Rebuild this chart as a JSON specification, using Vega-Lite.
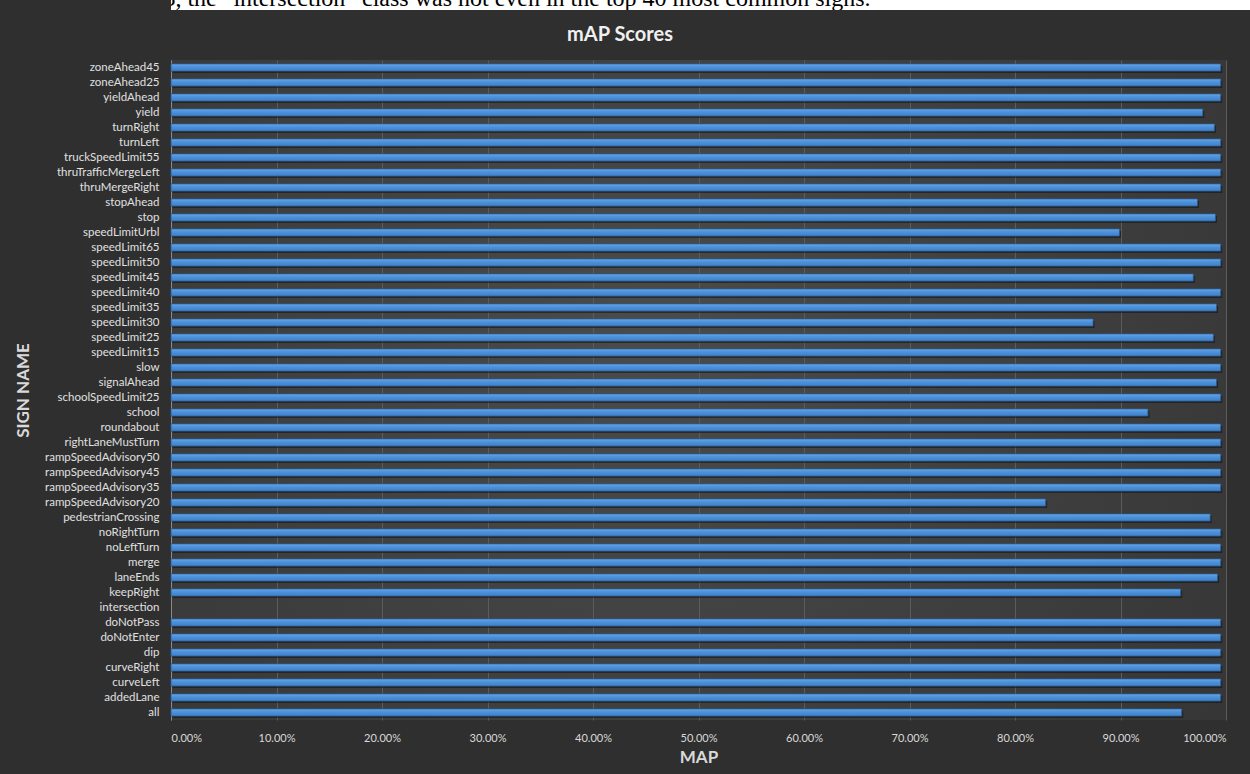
{
  "$schema": "https://vega.github.io/schema/vega-lite/v6.json",
  "background": "#2f2f2f",
  "padding": {"left": 14, "top": 0, "right": 0, "bottom": 10},
  "spacing": 15,
  "config": {"view": {"stroke": null}, "font": "Lato"},
  "datasets": {
    "scores": [
      {"sign": "zoneAhead45", "mAP": 0.995},
      {"sign": "zoneAhead25", "mAP": 0.995},
      {"sign": "yieldAhead", "mAP": 0.995},
      {"sign": "yield", "mAP": 0.978},
      {"sign": "turnRight", "mAP": 0.989},
      {"sign": "turnLeft", "mAP": 0.995},
      {"sign": "truckSpeedLimit55", "mAP": 0.995},
      {"sign": "thruTrafficMergeLeft", "mAP": 0.995},
      {"sign": "thruMergeRight", "mAP": 0.995},
      {"sign": "stopAhead", "mAP": 0.973},
      {"sign": "stop", "mAP": 0.990},
      {"sign": "speedLimitUrbl", "mAP": 0.899},
      {"sign": "speedLimit65", "mAP": 0.995},
      {"sign": "speedLimit50", "mAP": 0.995},
      {"sign": "speedLimit45", "mAP": 0.969},
      {"sign": "speedLimit40", "mAP": 0.995},
      {"sign": "speedLimit35", "mAP": 0.991},
      {"sign": "speedLimit30", "mAP": 0.874},
      {"sign": "speedLimit25", "mAP": 0.988},
      {"sign": "speedLimit15", "mAP": 0.995},
      {"sign": "slow", "mAP": 0.995},
      {"sign": "signalAhead", "mAP": 0.991},
      {"sign": "schoolSpeedLimit25", "mAP": 0.995},
      {"sign": "school", "mAP": 0.926},
      {"sign": "roundabout", "mAP": 0.995},
      {"sign": "rightLaneMustTurn", "mAP": 0.995},
      {"sign": "rampSpeedAdvisory50", "mAP": 0.995},
      {"sign": "rampSpeedAdvisory45", "mAP": 0.995},
      {"sign": "rampSpeedAdvisory35", "mAP": 0.995},
      {"sign": "rampSpeedAdvisory20", "mAP": 0.829},
      {"sign": "pedestrianCrossing", "mAP": 0.985},
      {"sign": "noRightTurn", "mAP": 0.995},
      {"sign": "noLeftTurn", "mAP": 0.995},
      {"sign": "merge", "mAP": 0.995},
      {"sign": "laneEnds", "mAP": 0.992},
      {"sign": "keepRight", "mAP": 0.957},
      {"sign": "intersection", "mAP": 0},
      {"sign": "doNotPass", "mAP": 0.995},
      {"sign": "doNotEnter", "mAP": 0.995},
      {"sign": "dip", "mAP": 0.995},
      {"sign": "curveRight", "mAP": 0.995},
      {"sign": "curveLeft", "mAP": 0.995},
      {"sign": "addedLane", "mAP": 0.995},
      {"sign": "all", "mAP": 0.958}
    ]
  },
  "vconcat": [
    {
      "width": 1080,
      "height": 10,
      "view": {"fill": "white", "stroke": null},
      "data": {"values": [{"line": "shown in Figure 3, the “intersection” class was not even in the top 40 most common signs."}]},
      "mark": {"type": "text", "font": "Liberation Serif", "fontSize": 24, "color": "black", "baseline": "alphabetic", "dy": 1, "dx": -275, "clip": true},
      "encoding": {"text": {"field": "line", "type": "nominal"}}
    },
    {
      "width": 1055,
      "height": 660,
      "view": {
        "stroke": null,
        "fill": {"gradient": "radial", "x1": 0.45, "y1": 0.45, "r1": 0, "x2": 0.45, "y2": 0.45, "r2": 0.75,
                 "stops": [{"offset": 0, "color": "#4b4b4b"}, {"offset": 1, "color": "#333333"}]}
      },
      "title": {"text": "mAP Scores", "font": "Lato", "fontSize": 20, "fontWeight": "bold", "color": "#f0f0f0", "offset": 15, "anchor": "middle", "frame": "bounds"},
      "data": {"name": "scores"},
      "transform": [{"filter": "datum.mAP > 0"}],
      "encoding": {
        "y": {
          "field": "sign",
          "type": "nominal",
          "scale": {
            "domain": ["zoneAhead45", "zoneAhead25", "yieldAhead", "yield", "turnRight", "turnLeft", "truckSpeedLimit55", "thruTrafficMergeLeft", "thruMergeRight", "stopAhead", "stop", "speedLimitUrbl", "speedLimit65", "speedLimit50", "speedLimit45", "speedLimit40", "speedLimit35", "speedLimit30", "speedLimit25", "speedLimit15", "slow", "signalAhead", "schoolSpeedLimit25", "school", "roundabout", "rightLaneMustTurn", "rampSpeedAdvisory50", "rampSpeedAdvisory45", "rampSpeedAdvisory35", "rampSpeedAdvisory20", "pedestrianCrossing", "noRightTurn", "noLeftTurn", "merge", "laneEnds", "keepRight", "intersection", "doNotPass", "doNotEnter", "dip", "curveRight", "curveLeft", "addedLane", "all"],
            "paddingInner": 0.52,
            "paddingOuter": 0.26
          },
          "axis": {
            "title": "SIGN NAME",
            "titleFont": "Lato",
            "titleFontSize": 17,
            "titleFontWeight": "bold",
            "titleColor": "#d9d9d9",
            "titlePadding": 14,
            "ticks": false,
            "tickSize": 0,
            "labelPadding": 12,
            "labelFont": "Lato",
            "labelFontSize": 11.5,
            "labelColor": "#e0e0e0",
            "domain": true,
            "domainColor": "#8a8a8a",
            "domainWidth": 1,
            "grid": false,
            "minExtent": 125,
            "maxExtent": 125
          }
        },
        "x": {
          "field": "mAP",
          "type": "quantitative",
          "scale": {"domain": [0, 1], "nice": false},
          "axis": {
            "title": "MAP",
            "titleFont": "Lato",
            "titleFontSize": 17,
            "titleFontWeight": "bold",
            "titleColor": "#d9d9d9",
            "titlePadding": 6,
            "values": [0, 0.1, 0.2, 0.3, 0.4, 0.5, 0.6, 0.7, 0.8, 0.9, 1],
            "format": ".2%",
            "domain": false,
            "ticks": false,
            "tickSize": 0,
            "labelPadding": 12,
            "labelFont": "Lato",
            "labelFontSize": 11,
            "labelColor": "#d9d9d9",
            "grid": true,
            "gridColor": "#5c5c5c",
            "gridWidth": 1
          }
        }
      },
      "layer": [
        {"mark": {"type": "bar", "color": "#111111", "opacity": 0.55, "yOffset": 2, "xOffset": 1.5}},
        {"mark": {"type": "bar", "stroke": "#2c5a8e", "strokeWidth": 0.8,
                  "color": {"gradient": "linear", "x1": 0, "y1": 0, "x2": 0, "y2": 1,
                            "stops": [{"offset": 0, "color": "#6aa9ea"}, {"offset": 0.4, "color": "#4d92dc"}, {"offset": 1, "color": "#3f80c9"}]}}}
      ]
    }
  ]
}
